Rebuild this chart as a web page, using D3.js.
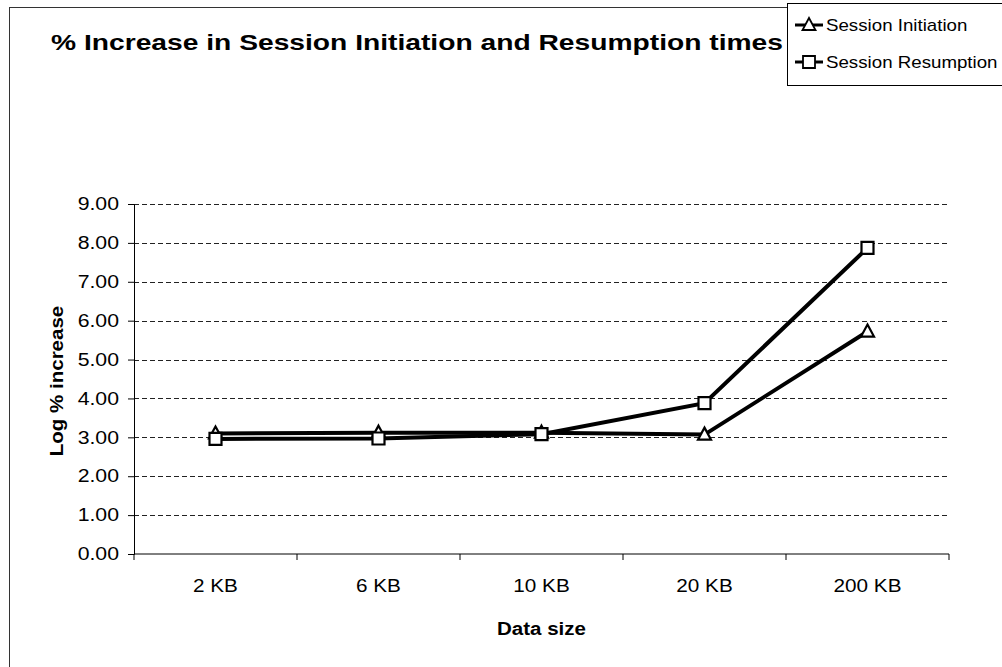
<!DOCTYPE html>
<html>
<head>
<meta charset="utf-8">
<script src="https://cdn.jsdelivr.net/npm/d3@7"></script>
<style>
  body { margin: 0; background: #fff; }
  svg text { font-family: "Liberation Sans", Arial, sans-serif; fill: #000; }
</style>
</head>
<body>
<div id="chart"></div>
<script>
// data
const categories = ["2 KB", "6 KB", "10 KB", "20 KB", "200 KB"];
const initiation = [3.10, 3.12, 3.12, 3.07, 5.72];
const resumption = [2.96, 2.97, 3.08, 3.88, 7.87];
const yTicks = [0, 1, 2, 3, 4, 5, 6, 7, 8, 9];

const width = 1002, height = 667;
const margin = {top: 204, right: 53, bottom: 113, left: 134};
const plotW = width - margin.left - margin.right,
      plotH = height - margin.top - margin.bottom;

// the scanned lettering is wider than Arial, stretch each text a bit
const stretch = function(sel, k) {
  sel.each(function() {
    const w = this.getComputedTextLength();
    d3.select(this).attr("textLength", w * k).attr("lengthAdjust", "spacingAndGlyphs");
  });
};

const svg = d3.select("#chart").append("svg")
  .attr("width", width).attr("height", height);

// outer chart frame
svg.append("rect")
  .attr("x", 9.5).attr("y", 7.5)
  .attr("width", 1020).attr("height", 700)
  .attr("fill", "none").attr("stroke", "#333").attr("stroke-width", 1);

const g = svg.append("g").attr("transform", `translate(${margin.left},${margin.top})`);

const x = d3.scaleBand().domain(categories).range([0, plotW]);
const y = d3.scaleLinear().domain([0, 9]).range([plotH, 0]);

// dashed gridlines
g.append("g")
  .selectAll("line")
  .data(yTicks.filter(d => d > 0))
  .enter().append("line")
    .attr("x1", 0).attr("x2", plotW)
    .attr("y1", d => Math.round(y(d)) + 0.5).attr("y2", d => Math.round(y(d)) + 0.5)
    .attr("stroke", "#222").attr("stroke-width", 1)
    .attr("stroke-dasharray", "5,3");

// y axis
const yAxis = g.append("g")
  .call(d3.axisLeft(y).tickValues(yTicks).tickFormat(d3.format(".2f")).tickSize(6).tickPadding(9));
yAxis.selectAll("text").style("font-size", "18px").attr("fill", "#000").call(stretch, 1.18);
yAxis.selectAll("line, path").attr("stroke", "#000");

// x axis, ticks on category boundaries
const xAxis = g.append("g").attr("transform", `translate(0,${plotH})`);
xAxis.append("line").attr("x1", 0).attr("x2", plotW).attr("stroke", "#000");
xAxis.selectAll("line.tick")
  .data(d3.range(categories.length + 1))
  .enter().append("line")
    .attr("class", "tick")
    .attr("x1", i => i * x.step()).attr("x2", i => i * x.step())
    .attr("y1", 0).attr("y2", 6)
    .attr("stroke", "#000");
xAxis.selectAll("text")
  .data(categories)
  .enter().append("text")
    .attr("x", d => x(d) + x.bandwidth() / 2)
    .attr("y", 38)
    .attr("text-anchor", "middle")
    .style("font-size", "18px")
    .text(d => d)
    .call(stretch, 1.15);

// series lines
const line = d3.line()
  .x((d, i) => x(categories[i]) + x.bandwidth() / 2)
  .y(d => y(d));

const series = [
  {name: "Session Initiation", values: initiation, marker: "tri"},
  {name: "Session Resumption", values: resumption, marker: "sq"}
];

const triPath = "M0,-7L6.5,5L-6.5,5Z";
const sqPath = "M-6,-6H6V6H-6Z";

series.forEach(s => {
  g.append("path")
    .datum(s.values)
    .attr("d", line)
    .attr("fill", "none")
    .attr("stroke", "#000")
    .attr("stroke-width", 4);
});
series.forEach(s => {
  g.append("g").selectAll("path")
    .data(s.values)
    .enter().append("path")
      .attr("d", s.marker === "tri" ? triPath : sqPath)
      .attr("transform", (d, i) => `translate(${x(categories[i]) + x.bandwidth() / 2},${y(d)})`)
      .attr("fill", "#fff").attr("stroke", "#000").attr("stroke-width", 2.2);
});

// title and axis titles
svg.append("text")
  .attr("x", 51).attr("y", 50)
  .style("font-size", "22px").style("font-weight", "bold")
  .text("% Increase in Session Initiation and Resumption times")
  .attr("textLength", 732).attr("lengthAdjust", "spacingAndGlyphs");

svg.append("text")
  .attr("transform", `translate(63,${margin.top + plotH / 2 + 2}) rotate(-90)`)
  .attr("text-anchor", "middle")
  .style("font-size", "18px").style("font-weight", "bold")
  .text("Log % increase")
  .call(stretch, 1.14);

svg.append("text")
  .attr("x", margin.left + plotW / 2).attr("y", 635)
  .attr("text-anchor", "middle")
  .style("font-size", "18px").style("font-weight", "bold")
  .text("Data size")
  .call(stretch, 1.14);

// legend
const legend = svg.append("g").attr("transform", "translate(787,0)");
legend.append("rect")
  .attr("x", 0.5).attr("y", 3.5).attr("width", 230).attr("height", 82)
  .attr("fill", "#fff").attr("stroke", "#000");
series.forEach((s, i) => {
  const ly = 25 + i * 37;
  legend.append("line")
    .attr("x1", 8).attr("x2", 36).attr("y1", ly).attr("y2", ly)
    .attr("stroke", "#000").attr("stroke-width", 3);
  legend.append("path")
    .attr("d", s.marker === "tri" ? triPath : sqPath)
    .attr("transform", `translate(22,${ly})`)
    .attr("fill", "#fff").attr("stroke", "#000").attr("stroke-width", 1.8);
  legend.append("text")
    .attr("x", 39).attr("y", ly + 6)
    .style("font-size", "17px")
    .text(s.name)
    .call(stretch, 1.1);
});
</script>
</body>
</html>
